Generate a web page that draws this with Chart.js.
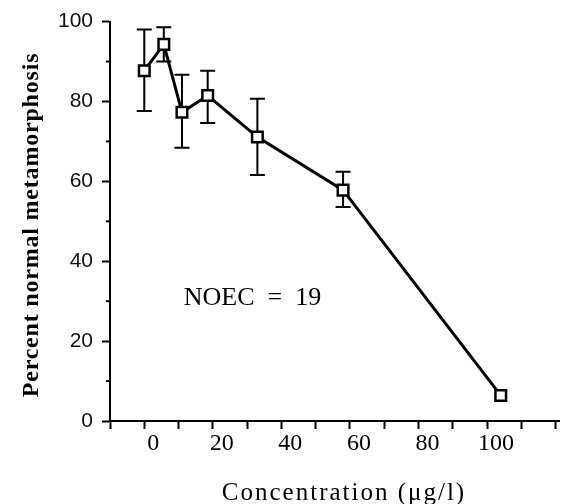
<!DOCTYPE html>
<html>
<head>
<meta charset="utf-8">
<script src="https://cdn.jsdelivr.net/npm/chart.js@4"></script>
<style>
  body { margin: 0; background: #fff; }
  #wrap { width: 569px; height: 504px; position: relative; }
</style>
</head>
<body>
<div id="wrap"><canvas id="myChart"></canvas></div>
<script>
// data
var concentration = [0, 5.7, 11, 18.5, 33, 58, 104];
var percentNormal = [87.7, 94.3, 77.3, 81.5, 71.1, 57.8, 6.4];
var errUpper = [98, 98.6, 86.7, 87.7, 80.7, 62.4, null];
var errLower = [77.6, 90, 68.4, 74.6, 61.6, 53.6, null];

var xTickLabels = [0, 20, 40, 60, 80, 100];
var yTickLabels = [0, 20, 40, 60, 80, 100];
var yMinorTicks = [10, 30, 50, 70, 90];

var xTitle = 'Concentration (\u03bcg/l)';
var yTitle = 'Percent normal metamorphosis';
var noteText = 'NOEC  =  19';
var notePos = { x: 11.5, y: 29 };

var points = concentration.map(function (c, i) {
    return { x: c, y: percentNormal[i] };
});

// error bars, minor ticks and the text bits
var extras = {
    id: 'extras',
    beforeDatasetsDraw: function (chart) {
        var ctx = chart.ctx;
        var xs = chart.scales.x, ys = chart.scales.y;
        ctx.save();
        ctx.strokeStyle = '#000';
        ctx.lineWidth = 2;
        for (var i = 0; i < concentration.length; i++) {
            if (errUpper[i] == null) continue;
            var px = xs.getPixelForValue(concentration[i]);
            var top = ys.getPixelForValue(errUpper[i]);
            var bot = ys.getPixelForValue(errLower[i]);
            ctx.beginPath();
            ctx.moveTo(px, top); ctx.lineTo(px, bot);
            ctx.moveTo(px - 7.5, top); ctx.lineTo(px + 7.5, top);
            ctx.moveTo(px - 7.5, bot); ctx.lineTo(px + 7.5, bot);
            ctx.stroke();
        }
        ctx.restore();
    },
    afterDraw: function (chart) {
        var ctx = chart.ctx;
        var xs = chart.scales.x, ys = chart.scales.y;
        var area = chart.chartArea;
        ctx.save();
        ctx.strokeStyle = '#000';
        ctx.lineWidth = 2;
        yMinorTicks.forEach(function (v) {
            var py = ys.getPixelForValue(v);
            ctx.beginPath();
            ctx.moveTo(area.left - 4, py); ctx.lineTo(area.left, py);
            ctx.stroke();
        });

        ctx.fillStyle = '#000';
        // note
        ctx.font = '26px "Liberation Serif", "Times New Roman", serif';
        ctx.textAlign = 'left';
        ctx.textBaseline = 'alphabetic';
        ctx.fillText(noteText, xs.getPixelForValue(notePos.x), ys.getPixelForValue(notePos.y));

        // x title
        ctx.font = '25px "Liberation Serif", "Times New Roman", serif';
        ctx.letterSpacing = '2px';
        ctx.textAlign = 'center';
        ctx.fillText(xTitle, 344, 500);

        // y title
        ctx.font = 'bold 24px "Liberation Serif", "Times New Roman", serif';
        ctx.letterSpacing = '0.8px';
        ctx.translate(38, 225);
        ctx.rotate(-Math.PI / 2);
        ctx.fillText(yTitle, 0, 0);
        ctx.restore();
    }
};

var ctx = document.getElementById('myChart').getContext('2d');
var myChart = new Chart(ctx, {
    type: 'line',
    data: {
        datasets: [{
            data: points,
            borderColor: '#000',
            borderWidth: 3,
            tension: 0,
            pointStyle: 'rect',
            pointRadius: 7.5,
            pointBorderWidth: 2.5,
            pointBorderColor: '#000',
            pointBackgroundColor: '#fff'
        }]
    },
    plugins: [extras],
    options: {
        responsive: true,
        maintainAspectRatio: false,
        animation: false,
        layout: { padding: { top: 16, left: 0, right: 0, bottom: 0 } },
        plugins: {
            legend: { display: false },
            tooltip: { enabled: false }
        },
        scales: {
            x: {
                type: 'linear',
                min: -10,
                max: 121,
                afterFit: function (s) { s.height = 83; },
                border: { color: '#000', width: 2 },
                grid: { drawOnChartArea: false, tickLength: 8, tickWidth: 2, tickColor: '#000' },
                ticks: {
                    stepSize: 10,
                    includeBounds: false,
                    autoSkip: false,
                    maxRotation: 0,
                    padding: 0,
                    labelOffset: 9,
                    color: '#000',
                    font: { family: '"Liberation Serif", "Times New Roman", serif', size: 24 },
                    callback: function (v) { return xTickLabels.indexOf(v) >= 0 ? String(v) : ''; }
                }
            },
            y: {
                min: 0,
                max: 100,
                afterFit: function (s) { s.width = 110; },
                border: { color: '#000', width: 2 },
                grid: {
                    drawOnChartArea: false,
                    tickLength: 8,
                    tickWidth: 2,
                    tickColor: function (c) {
                        return yTickLabels.indexOf(c.tick.value) >= 0 ? '#000' : 'rgba(0,0,0,0)';
                    }
                },
                ticks: {
                    stepSize: 10,
                    autoSkip: false,
                    padding: 9,
                    color: '#111',
                    font: { family: '"Liberation Sans", Arial, sans-serif', size: 21 },
                    callback: function (v) { return yTickLabels.indexOf(v) >= 0 ? String(v) : ''; }
                }
            }
        }
    }
});
</script>
</body>
</html>
